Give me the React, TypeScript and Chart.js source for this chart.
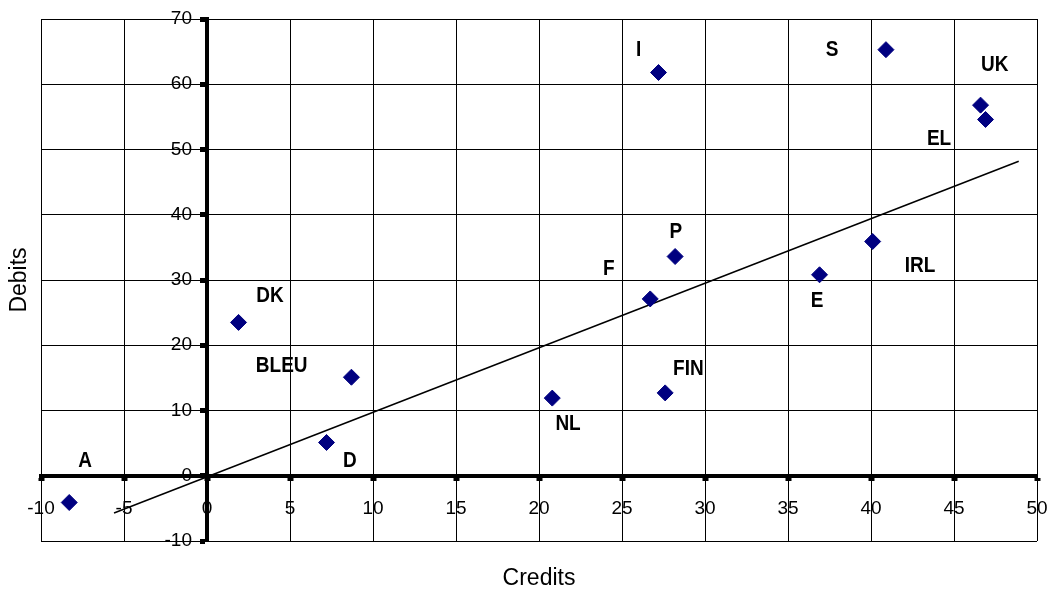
import React, { useEffect, useRef } from 'react';
import { Chart, registerables } from 'chart.js';

Chart.register(...registerables);

// ---- data ----
const countries = ['A', 'DK', 'BLEU', 'D', 'NL', 'FIN', 'F', 'P', 'I', 'S', 'UK', 'EL', 'E', 'IRL'];
const credits = [-8.3, 1.9, 8.7, 7.2, 20.8, 27.6, 26.7, 28.2, 27.2, 40.9, 46.6, 46.9, 36.9, 40.1];
const debits = [-4.1, 23.5, 15.1, 5.1, 11.9, 12.7, 27.1, 33.6, 61.8, 65.3, 56.8, 54.6, 30.8, 35.9];
// where each country's name is written (data units)
const nameCredits = [-7.35, 3.8, 4.5, 8.6, 21.75, 29.0, 24.2, 28.25, 26.0, 37.65, 47.45, 44.1, 36.75, 42.95];
const nameDebits = [2.2, 27.6, 16.75, 2.2, 7.95, 16.4, 31.6, 37.4, 65.3, 65.3, 63.0, 51.6, 26.8, 32.2];
// trend line end points
const trendCredits = [-5.6, 48.9];
const trendDebits = [-5.7, 48.2];
// axes
const xMin = -10, xMax = 50, xStep = 5;
const yMin = -10, yMax = 70, yStep = 10;
const xTitle = 'Credits';
const yTitle = 'Debits';

const FAMILY = '"Liberation Sans", Arial, sans-serif';

const namePlugin = {
  id: 'countryNames',
  beforeDraw(chart: any) {
    // y tick labels sit a little left of the crossing axis
    const s = chart.scales.y;
    if (s && !s.__patched) {
      const orig = s._computeLabelItems;
      s._computeLabelItems = function (ca: any) {
        const items = orig.call(this, ca);
        const axisX = chart.scales.x.getPixelForValue(0);
        items.forEach((it: any) => {
          if (it && it.options && it.options.translation) {
            it.options.translation[0] = axisX - 15;
            it.options.textAlign = 'right';
          }
        });
        return items;
      };
      s.__patched = true;
    }
    if (s) s._labelItems = null;
  },
  afterDatasetsDraw(chart: any) {
    const { ctx, scales } = chart;
    const sx = scales.x, sy = scales.y;
    ctx.save();
    ctx.font = 'bold 19px ' + FAMILY;
    ctx.fillStyle = '#000';
    ctx.textAlign = 'center';
    ctx.textBaseline = 'middle';
    countries.forEach((c, i) => {
      const px = sx.getPixelForValue(nameCredits[i]);
      const py = sy.getPixelForValue(nameDebits[i]);
      ctx.save();
      ctx.translate(px, py);
      ctx.scale(1, 1.12);
      ctx.fillText(c, 0, 0);
      ctx.restore();
    });
    ctx.restore();
  },
};

export default function App() {
  const ref = useRef<HTMLCanvasElement | null>(null);
  useEffect(() => {
    if (!ref.current) return;
    const chart = new Chart(ref.current, {
      type: 'scatter',
      data: {
        datasets: [
          {
            label: 'Countries',
            data: credits.map((c, i) => ({ x: c, y: debits[i] })),
            pointStyle: 'rectRot',
            pointRadius: 8,
            pointHoverRadius: 8,
            backgroundColor: '#000080',
            borderColor: '#000080',
            borderWidth: 1,
            showLine: false,
          },
          {
            label: 'Trend',
            data: trendCredits.map((c, i) => ({ x: c, y: trendDebits[i] })),
            showLine: true,
            borderColor: '#000',
            borderWidth: 1.5,
            pointRadius: 0,
            pointHoverRadius: 0,
            fill: false,
          },
        ],
      },
      options: {
        responsive: false,
        animation: false,
        devicePixelRatio: 1,
        layout: { padding: { left: 0, top: 19, right: 14, bottom: 0 } },
        scales: {
          x: {
            type: 'linear',
            min: xMin,
            max: xMax,
            position: { y: 0 } as any,
            ticks: { stepSize: xStep, color: '#000', font: { size: 19, family: FAMILY }, padding: 19, maxRotation: 0, autoSkip: false },
            grid: { color: '#000', lineWidth: 1, drawTicks: true, tickLength: 3, tickWidth: 6, tickColor: '#000' },
            border: { display: true, color: '#000', width: 4 },
            afterFit: (s: any) => { s.height = 0; s.paddingLeft = 0; s.paddingRight = 0; },
          },
          y: {
            type: 'linear',
            min: yMin,
            max: yMax,
            position: { x: 0 } as any,
            ticks: { stepSize: yStep, color: '#000', font: { size: 19, family: FAMILY }, padding: 8, autoSkip: false },
            grid: { color: '#000', lineWidth: 1, drawTicks: true, tickLength: 5, tickWidth: 5, tickColor: '#000' },
            border: { display: true, color: '#000', width: 4 },
            afterFit: (s: any) => { s.width = 0; s.paddingTop = 0; s.paddingBottom = 0; },
          },
        },
        plugins: {
          legend: { display: false },
          tooltip: { enabled: false },
          title: {
            display: true,
            text: yTitle,
            position: 'left',
            fullSize: false,
            color: '#000',
            font: { size: 23, weight: 'normal', family: FAMILY },
            padding: { top: 6, bottom: 7.4 },
          },
          subtitle: {
            display: true,
            text: xTitle,
            position: 'bottom',
            fullSize: false,
            color: '#000',
            font: { size: 23, weight: 'normal', family: FAMILY },
            padding: { top: 24, bottom: 0.4 },
          },
        },
      } as any,
      plugins: [namePlugin],
    });
    return () => chart.destroy();
  }, []);
  return (
    <div style={{ position: 'fixed', left: 0, top: 0, width: 1051, height: 593, background: '#fff' }}>
      <canvas ref={ref} width={1051} height={593} style={{ display: 'block' }} />
    </div>
  );
}
